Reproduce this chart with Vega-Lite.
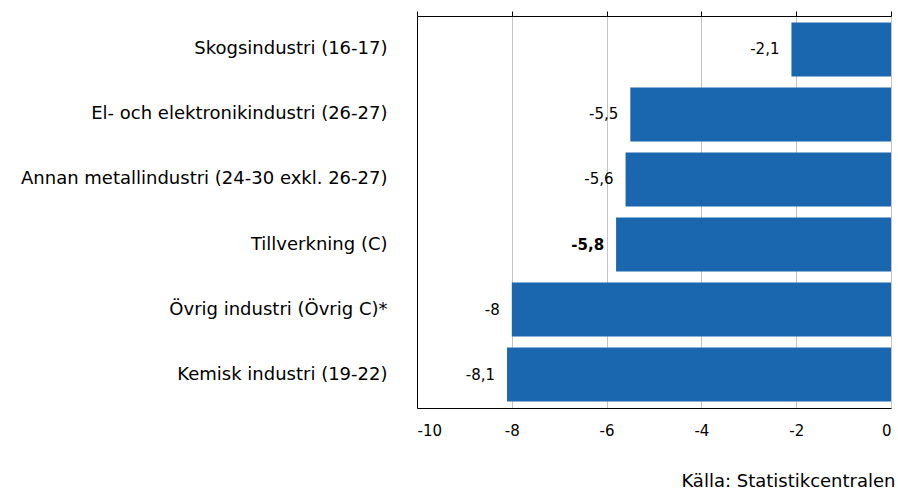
{
  "$schema": "https://vega.github.io/schema/vega-lite/v6.json",
  "width": 474,
  "height": 392,
  "autosize": "none",
  "padding": {"left": 417, "top": 16, "right": 7, "bottom": 86},
  "background": "white",
  "config": {
    "view": {"stroke": null},
    "font": "DejaVu Sans",
    "axis": {"labelFont": "DejaVu Sans", "labelColor": "#000", "domainColor": "#000", "tickColor": "#000"}
  },
  "data": {
    "values": [
      {"industri": "Skogsindustri (16-17)", "varde": -2.1, "etikett": "-2,1", "fet": false},
      {"industri": "El- och elektronikindustri (26-27)", "varde": -5.5, "etikett": "-5,5", "fet": false},
      {"industri": "Annan metallindustri (24-30  exkl. 26-27)", "varde": -5.6, "etikett": "-5,6", "fet": false},
      {"industri": "Tillverkning (C)", "varde": -5.8, "etikett": "-5,8", "fet": true},
      {"industri": "Övrig industri (Övrig C)*", "varde": -8.0, "etikett": "-8", "fet": false},
      {"industri": "Kemisk industri (19-22)", "varde": -8.1, "etikett": "-8,1", "fet": false}
    ]
  },
  "title": {
    "text": "Källa: Statistikcentralen",
    "orient": "bottom",
    "anchor": "end",
    "font": "DejaVu Sans",
    "fontSize": 18,
    "fontWeight": "normal",
    "color": "#000",
    "offset": 35,
    "dx": 4
  },
  "encoding": {
    "y": {
      "field": "industri",
      "type": "nominal",
      "sort": null,
      "scale": {"paddingInner": 0.17, "paddingOuter": 0.1},
      "axis": {"title": null, "ticks": false, "labelFontSize": 18, "labelPadding": 30, "domainColor": "#000", "labelLimit": 420}
    }
  },
  "layer": [
    {
      "mark": {"type": "bar", "color": "#1a67b0"},
      "encoding": {
        "x": {
          "field": "varde",
          "type": "quantitative",
          "scale": {"domain": [-10, 0], "nice": false},
          "axis": {"title": null, "orient": "bottom", "values": [-10, -8, -6, -4, -2, 0], "labelExpr": "'' + datum.value", "tickSize": 0, "labelPadding": 15, "labelFontSize": 15, "grid": true, "gridColor": "#c4c4c4", "domainColor": "#000"}
        }
      }
    },
    {
      "transform": [{"filter": "!datum.fet"}],
      "mark": {"type": "text", "align": "right", "dx": -12, "fontSize": 15, "color": "#000"},
      "encoding": {
        "x": {
          "field": "varde",
          "type": "quantitative",
          "axis": {"title": null, "orient": "top", "values": [-10, -8, -6, -4, -2, 0], "labels": false, "tickSize": 5, "grid": false, "domainColor": "#000"}
        },
        "text": {"field": "etikett"}
      }
    },
    {
      "transform": [{"filter": "datum.fet"}],
      "mark": {"type": "text", "align": "right", "dx": -12, "fontSize": 15, "fontWeight": "bold", "color": "#000"},
      "encoding": {
        "x": {"field": "varde", "type": "quantitative", "axis": null},
        "text": {"field": "etikett"}
      }
    }
  ],
  "resolve": {"axis": {"x": "independent"}}
}
